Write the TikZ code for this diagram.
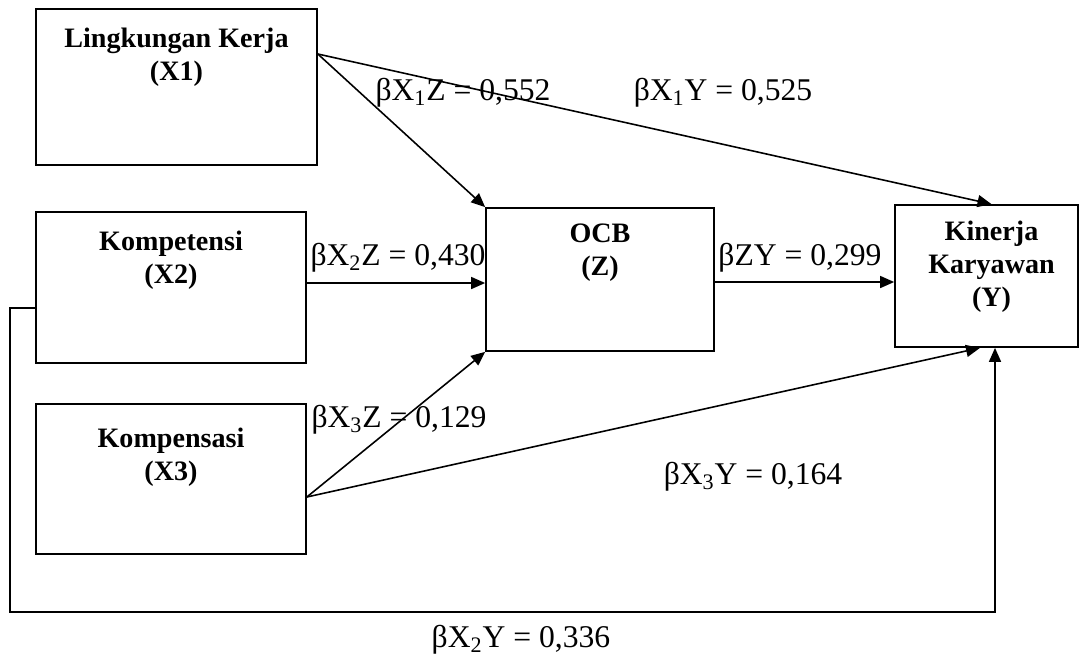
\documentclass[tikz,border=0pt]{standalone}
\usepackage{fontspec}
\setmainfont{Liberation Serif}
\usetikzlibrary{arrows.meta,positioning}

\begin{document}
\begin{tikzpicture}[x=0.02cm, y=-0.02cm,
        box/.style={draw, line width=1pt, inner sep=0pt},
        boxtext/.style={anchor=north, align=center, font=\bfseries\fontsize{16}{18.7}\selectfont, yshift=-0.27cm},
        coef/.style={inner sep=0pt, font=\fontsize{18}{20}\selectfont},
        arrow/.style={-{Triangle[length=0.28cm,width=0.24cm]}, line width=0.9pt}
    ]
    \useasboundingbox (0,0) rectangle (1087,657);
    \node[box, minimum width=5.62cm, minimum height=3.12cm, label={[boxtext]north:Lingkungan Kerja\\(X1)}] (lk) at (176.5,87) {};
    \node[box, minimum width=5.4cm, minimum height=3.02cm, label={[boxtext]north:Kompetensi\\(X2)}] (komp) at (171,287.5) {};
    \node[box, minimum width=5.4cm, minimum height=3.0cm, label={[boxtext, yshift=-0.1cm]north:Kompensasi\\(X3)}] (kps) at (171,479) {};
    \node[box, minimum width=4.56cm, minimum height=2.86cm, label={[boxtext, yshift=0.05cm]north:OCB\\(Z)}] (ocb) at (600,279.5) {};
    \node[box, minimum width=3.66cm, minimum height=2.84cm, label={[boxtext, xshift=0.1cm, yshift=0.05cm]north:Kinerja\\Karyawan\\(Y)}] (kin) at (986.5,276) {};
    \coordinate (loop) at (10,612);
    % coefficients
    \node[coef] (bx1z) at (463,93) {βX\textsubscript{1}Z = 0,552};
    \node[coef] (bx1y) at (723,93) {βX\textsubscript{1}Y = 0,525};
    \node[coef] (bx2z) at (398,258) {βX\textsubscript{2}Z = 0,430};
    \node[coef] (bzy) at (800,258) {βZY = 0,299};
    \node[coef] (bx3z) at (399,420) {βX\textsubscript{3}Z = 0,129};
    \node[coef] (bx3y) at (753,477) {βX\textsubscript{3}Y = 0,164};
    \node[coef] (bx2y) at (521,640) {βX\textsubscript{2}Y = 0,336};
    % paths
    \draw[arrow] ([yshift=0.66cm]lk.east) -- (ocb.north west);
    \draw[arrow] ([yshift=0.66cm]lk.east) -- ([xshift=0.1cm]kin.north);
    \draw[arrow] ([yshift=0.09cm]komp.east) -- ([yshift=0.09cm]komp.east -| ocb.west);
    \draw[arrow] ([yshift=-0.05cm]ocb.east) -- ([yshift=-0.05cm]ocb.east -| kin.west);
    \draw[arrow] ([yshift=-0.36cm]kps.east) -- (ocb.south west);
    \draw[arrow] ([yshift=-0.36cm]kps.east) -- ([xshift=-0.13cm]kin.south);
    \draw[arrow] ([yshift=-0.41cm]komp.west) -| (loop) -| ([xshift=0.17cm]kin.south);
\end{tikzpicture}
\end{document}
